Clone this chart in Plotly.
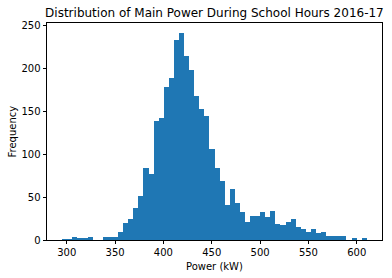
import plotly.graph_objects as go

# Histogram data (60 bins)
bin_start = 295.35
bin_width = 5.25
counts = [1, 1, 3, 2, 2, 3, 0, 0, 3, 4,
          4, 9, 20, 25, 37, 51, 84, 77, 139, 142,
          179, 189, 233, 241, 214, 198, 168, 153, 145, 106,
          84, 69, 41, 60, 43, 33, 21, 28, 28, 33,
          27, 34, 19, 17, 21, 24, 15, 13, 9, 13,
          8, 9, 5, 5, 5, 5, 0, 2, 0, 2]
x_ticks = [300, 350, 400, 450, 500, 550, 600]
y_ticks = [0, 50, 100, 150, 200, 250]

centers = [bin_start + bin_width * (i + 0.5) for i in range(len(counts))]
data_min = bin_start
data_max = bin_start + bin_width * len(counts)
pad = 0.05 * (data_max - data_min)

fig = go.Figure(go.Bar(
    x=centers, y=counts, width=bin_width,
    marker=dict(color="#1f77b4", line=dict(width=0)),
))

font = "DejaVu Sans"
fig.update_layout(
    width=392, height=278,
    margin=dict(l=47, r=10, t=23, b=38),
    paper_bgcolor="white", plot_bgcolor="white",
    bargap=0, showlegend=False,
    font=dict(family=font, size=10, color="black"),
    title=dict(text="Distribution of Main Power During School Hours 2016-17",
               x=0.547, xanchor="center", y=1 - 12.5 / 278, yanchor="middle",
               yref="container", font=dict(size=12, family=font, color="black")),
)
axis_common = dict(showgrid=False, zeroline=False, showline=True, mirror=True,
                   linecolor="black", linewidth=0.8, ticks="outside",
                   ticklen=3.5, tickwidth=0.8, tickcolor="black",
                   tickfont=dict(size=10, family=font, color="black"))
fig.update_xaxes(range=[data_min - pad, data_max + pad], tickvals=x_ticks, **axis_common)
fig.update_yaxes(range=[0, max(counts) * 1.05], tickvals=y_ticks, **axis_common)

fig.add_annotation(text="Power (kW)", xref="paper", yref="paper", x=0.5, y=0,
                   yshift=-26, showarrow=False, yanchor="middle",
                   font=dict(size=10, family=font, color="black"))
fig.add_annotation(text="Frequency", xref="paper", yref="paper", x=0, y=0.5,
                   xshift=-35, showarrow=False, textangle=-90, xanchor="center",
                   font=dict(size=10, family=font, color="black"))

fig.write_html("out.html")
